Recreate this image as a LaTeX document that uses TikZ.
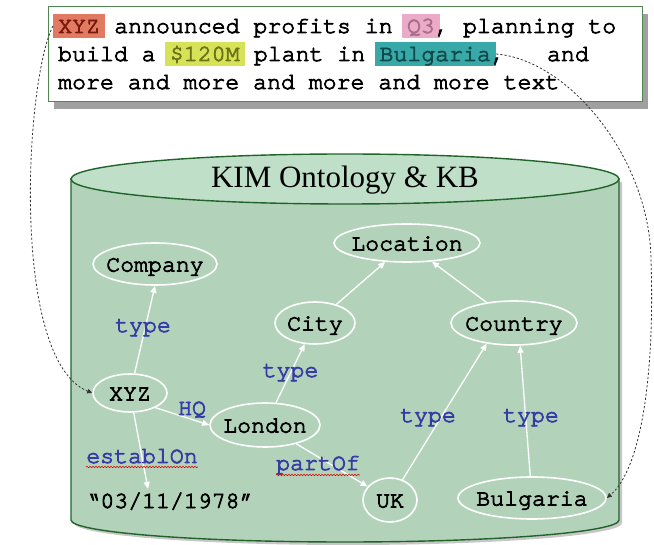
\documentclass[tikz,border=0pt]{standalone}
\usepackage{fontspec}
\setmainfont{Liberation Serif}
\newfontfamily\cour{TeX Gyre Cursor}[Ligatures=NoCommon, FakeBold=3.5]
\usetikzlibrary{arrows.meta,shapes.geometric,decorations.pathmorphing,calc}

\definecolor{cylbody}{RGB}{178,211,186}
\definecolor{cyltop}{RGB}{192,223,200}
\definecolor{cyledge}{RGB}{32,100,42}
\definecolor{boxedge}{RGB}{80,135,80}
\definecolor{boxshadow}{RGB}{160,160,160}
\definecolor{relblue}{RGB}{55,60,165}
\definecolor{hlred}{RGB}{226,122,98}
\definecolor{hlpink}{RGB}{234,170,200}
\definecolor{hlyellow}{RGB}{214,226,88}
\definecolor{hlteal}{RGB}{56,168,168}
\definecolor{txred}{RGB}{120,25,15}
\definecolor{txpink}{RGB}{170,110,140}
\definecolor{txolive}{RGB}{110,115,25}
\definecolor{txteal}{RGB}{15,75,75}

% zero-width label so that the ellipse size comes from the minimum size only
\newcommand\zw[1]{\makebox[0pt]{#1}}
% a trailing space that survives the node's \unskip
\newcommand\tsp{\ \null}

\begin{document}
\begin{tikzpicture}[x=1pt,y=-1pt,
  mono/.style={font=\cour\fontsize{23.2pt}{28pt}\selectfont},
  piece/.style={mono, anchor=base west, inner sep=0pt},
  hlword/.style={mono, anchor=base west, inner xsep=5pt, inner ysep=0pt,
                 text height=19pt, text depth=5pt},
  concept/.style={mono, ellipse, draw=white, line width=1.6pt, inner sep=0pt,
                  text height=15pt, text depth=0pt},
  rel/.style={draw=white, line width=1.3pt, -{Triangle[length=7pt,width=6pt]}},
  rellabel/.style={mono, text=relblue, anchor=base, inner sep=0pt},
  spell/.style={draw=red!85!black, line width=0.6pt, decorate,
                decoration={snake, amplitude=0.7pt, segment length=3pt}},
  link/.style={draw=black!80, line width=0.8pt, dash pattern=on 2.2pt off 2pt,
               -{Triangle[length=5pt,width=4.5pt]}}
]
\useasboundingbox (0,0) rectangle (654,545);

% ---- annotated text box ----
\fill[boxshadow] (54,14) rectangle (648,109);
\draw[boxedge, fill=white, line width=1pt] (48,7) rectangle (642,102);

% line 1
\node[hlword, fill=hlred, text=txred] (hlxyz) at (53,33) {XYZ};
\node[piece] (l1b) at ($(hlxyz.base east)+(-5,0)$) {\ announced profits in\tsp};
\node[hlword, fill=hlpink, text=txpink] (hlq) at ($(l1b.base east)+(-5,0)$) {Q3};
\node[piece] (l1d) at ($(hlq.base east)+(-5,0)$) {, planning to};
% line 2
\node[piece] (l2a) at (58,61) {build a\tsp};
\node[hlword, fill=hlyellow, text=txolive] (hlusd) at ($(l2a.base east)+(-5,0)$) {\$120M};
\node[piece] (l2c) at ($(hlusd.base east)+(-5,0)$) {\ plant in\tsp};
\node[hlword, fill=hlteal, text=txteal] (hlbul) at ($(l2c.base east)+(-5,0)$) {Bulgaria};
\node[piece] (l2e) at ($(hlbul.base east)+(-5,0)$) {,\ \ \ and};
% line 3
\node[piece] (l3) at (58,89) {more and more and more and more text};

% ---- knowledge base cylinder ----
\fill[black!22, shift={(3,3)}]
  (71,179) -- (71,520) arc[start angle=180, end angle=0, x radius=274, y radius=22]
  -- (619,179) -- cycle;
\draw[cyledge, fill=cylbody, line width=1.4pt]
  (71,179) -- (71,520) arc[start angle=180, end angle=0, x radius=274, y radius=22]
  -- (619,179) -- cycle;
\draw[cyledge, fill=cyltop, line width=1.4pt]
  (345,179) ellipse[x radius=274, y radius=25];
\node[font=\fontsize{31pt}{31pt}\selectfont, anchor=base, inner sep=0pt] (title)
  at (345,188) {KIM Ontology \& KB};

% ---- concepts and instances ----
\node[concept, minimum width=124pt, minimum height=42pt] (company)  at (155,264) {\zw{Company}};
\node[concept, minimum width=146pt, minimum height=38pt] (location) at (407,243) {\zw{Location}};
\node[concept, minimum width=80pt,  minimum height=42pt] (city)     at (315,323) {\zw{City}};
\node[concept, minimum width=126pt, minimum height=44pt] (country)  at (514,323) {\zw{Country}};
\node[concept, minimum width=74pt,  minimum height=38pt] (xyz)      at (130,393) {\zw{XYZ}};
\node[concept, minimum width=110pt, minimum height=44pt] (london)   at (265,425) {\zw{London}};
\node[concept, minimum width=54pt,  minimum height=44pt] (uk)       at (390,500) {\zw{UK}};
\node[concept, minimum width=148pt, minimum height=42pt] (bulgaria) at (532,498) {\zw{Bulgaria}};
\node[mono, anchor=base, inner sep=0pt] (date) at (170,508) {“03/11/1978”};
\coordinate (datein) at (148,489);

% ---- relations ----
\draw[rel] (xyz) -- (company.south);
\draw[rel] (xyz.-30) -- (london.west);
\draw[rel] (xyz) -- (datein);
\draw[rel] (london) -- (city);
\draw[rel] (city) -- (location);
\draw[rel] (country) -- (location);
\draw[rel] (london) -- (uk);
\draw[rel] (uk) -- (country.-143);
\draw[rel] (bulgaria) -- (country.-75);

\node[rellabel] (t1) at (143,332) {type};
\node[rellabel] (t2) at (290.5,377) {type};
\node[rellabel] (hq) at (192,415) {HQ};
\node[rellabel] (est) at (142,463) {establOn};
\node[rellabel] (part) at (318,470) {partOf};
\node[rellabel] (t3) at (428,422) {type};
\node[rellabel] (t4) at (531,422) {type};

\draw[spell] ($(est.base west)+(0,4)$) -- ($(est.base east)+(0,4)$);
\draw[spell] ($(part.base west)+(0,5)$) -- ($(part.base east)+(0,5)$);

% ---- links from the text mentions to the instances ----
\draw[link] (hlxyz.west) .. controls (25,80) and (10,360) .. (xyz.west);
\draw[link] (hlbul.east) .. controls (570,60) and (650,160) .. (651,260)
            .. controls (655,380) and (640,470) .. (bulgaria.east);
\end{tikzpicture}
\end{document}
